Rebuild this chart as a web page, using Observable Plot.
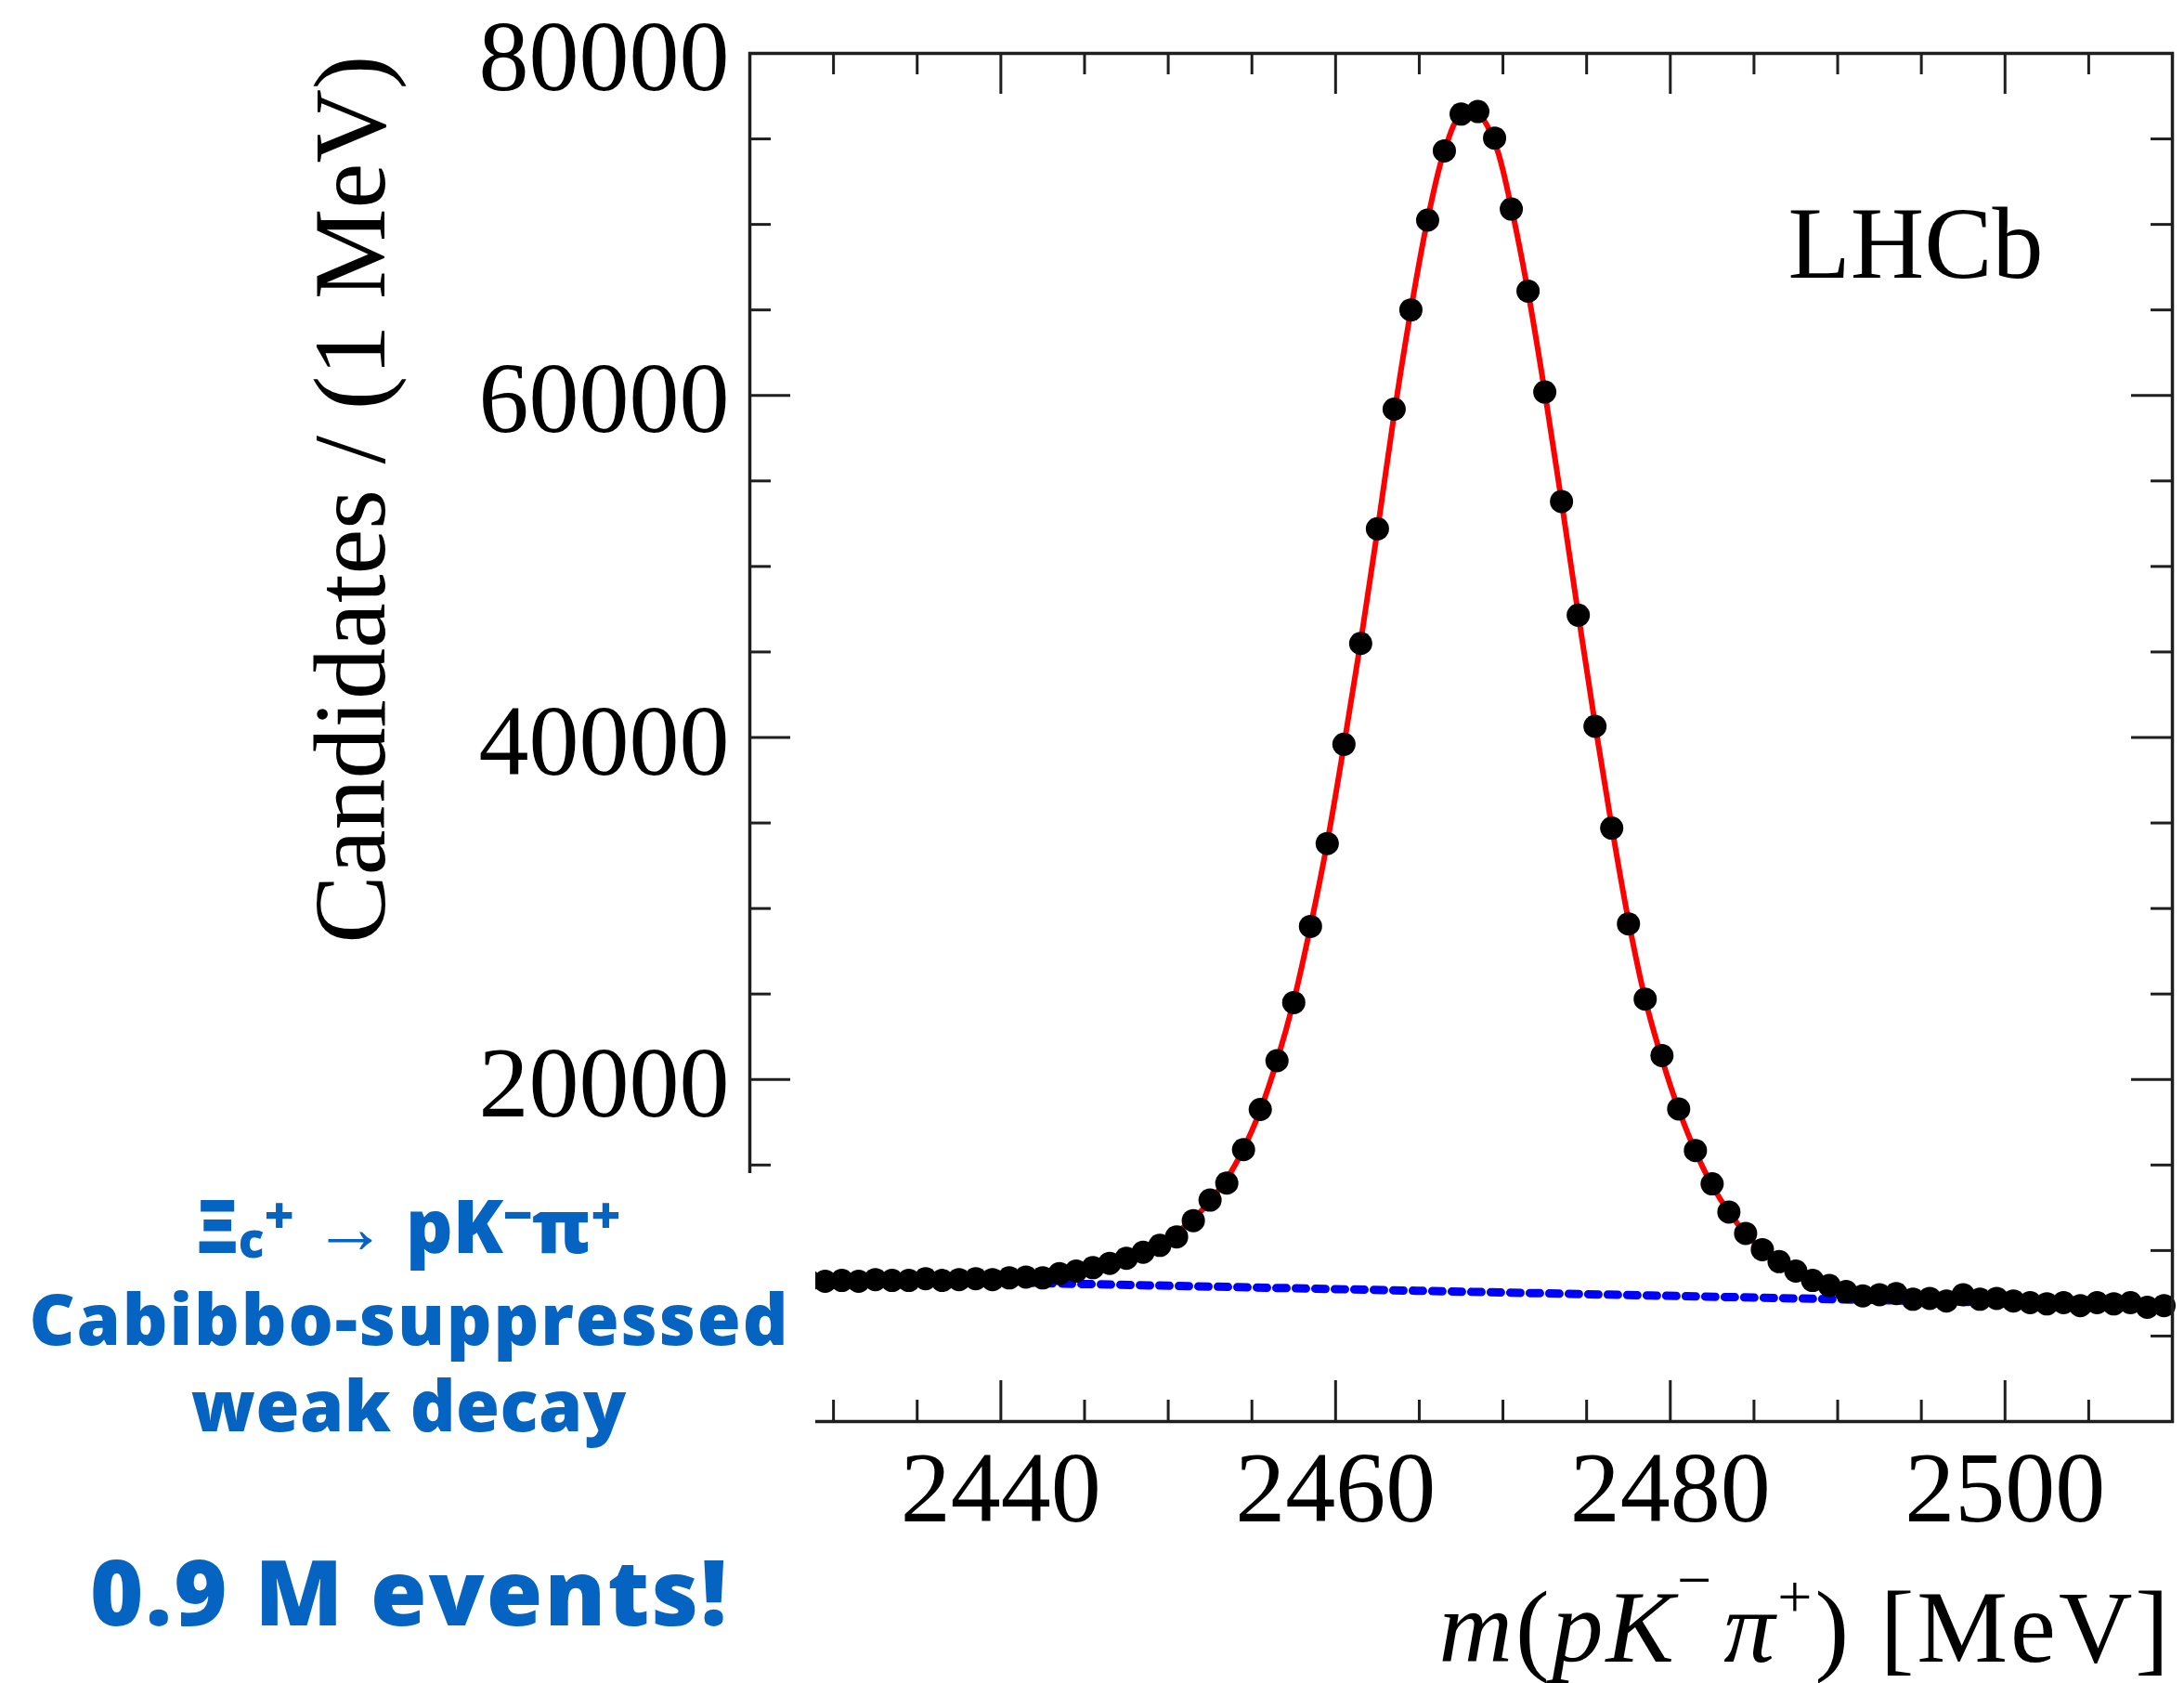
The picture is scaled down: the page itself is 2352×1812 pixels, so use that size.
<!DOCTYPE html>
<html><head><meta charset="utf-8">
<script src="https://cdn.jsdelivr.net/npm/d3@7"></script>
<script src="https://cdn.jsdelivr.net/npm/@observablehq/plot@0.6"></script>
<style>
html,body{margin:0;padding:0;background:#fff;}
#wrap{position:relative;width:2352px;height:1812px;overflow:hidden;background:#fff;}
#wrap svg{position:absolute;left:0;top:0;}
#mask{position:absolute;left:0;top:1263px;width:878px;height:549px;background:#fff;}
.bl{position:absolute;left:0;width:880px;text-align:center;color:#0563C1;font-family:"Open Sans",sans-serif;font-weight:800;white-space:nowrap;line-height:1;}
.bl .in{display:inline-block;line-height:1;}
.bl .sub{font-size:0.65em;display:inline-block;line-height:0.5;position:relative;top:0.1em;}
.bl .sup{font-size:0.7em;display:inline-block;line-height:0.5;position:relative;top:-0.38em;}
#xt{position:absolute;right:13px;top:1703px;font-family:"Liberation Serif",serif;font-size:110px;line-height:0.9;white-space:nowrap;color:#000;letter-spacing:3px;}
#xt .in{display:inline-block;line-height:0.9;}
#xt .s1{font-size:0.6em;display:inline-block;line-height:0.5;position:relative;top:-1.0em;margin-right:10px;}
#xt .s2{font-size:0.6em;display:inline-block;line-height:0.5;position:relative;top:-0.72em;}
</style></head><body><div id="wrap"></div>
<script>
// bin centres (MeV)
const mass = [
  2428.5, 2429.5, 2430.5, 2431.5, 2432.5, 2433.5, 2434.5, 2435.5, 2436.5, 2437.5,
  2438.5, 2439.5, 2440.5, 2441.5, 2442.5, 2443.5, 2444.5, 2445.5, 2446.5, 2447.5,
  2448.5, 2449.5, 2450.5, 2451.5, 2452.5, 2453.5, 2454.5, 2455.5, 2456.5, 2457.5,
  2458.5, 2459.5, 2460.5, 2461.5, 2462.5, 2463.5, 2464.5, 2465.5, 2466.5, 2467.5,
  2468.5, 2469.5, 2470.5, 2471.5, 2472.5, 2473.5, 2474.5, 2475.5, 2476.5, 2477.5,
  2478.5, 2479.5, 2480.5, 2481.5, 2482.5, 2483.5, 2484.5, 2485.5, 2486.5, 2487.5,
  2488.5, 2489.5, 2490.5, 2491.5, 2492.5, 2493.5, 2494.5, 2495.5, 2496.5, 2497.5,
  2498.5, 2499.5, 2500.5, 2501.5, 2502.5, 2503.5, 2504.5, 2505.5, 2506.5, 2507.5,
  2508.5, 2509.5
];
// data: candidates per 1 MeV
const counts = [
  8250, 8200, 8250, 8200, 8300, 8250, 8250, 8350, 8250, 8300,
  8350, 8300, 8400, 8450, 8400, 8650, 8800, 9000, 9250, 9550,
  9900, 10300, 10800, 11750, 12950, 13950, 15900, 18250, 21100, 24500,
  28950, 33800, 39600, 45500, 52200, 59200, 65000, 70250, 74300, 76450,
  76600, 75050, 70900, 66100, 60200, 53800, 47150, 40650, 34700, 29100,
  24700, 21400, 18280, 15850, 13900, 12250, 11000, 10050, 9350, 8800,
  8250, 7950, 7600, 7350, 7420, 7480, 7150, 7200, 7050, 7420,
  7150, 7200, 7050, 6950, 6880, 6950, 6780, 6950, 6880, 6950,
  6680, 6780
];
// total fit (red)
const fitCounts = [
  8270, 8270, 8270, 8270, 8275, 8280, 8285, 8290, 8300, 8310,
  8320, 8340, 8370, 8410, 8470, 8560, 8690, 8870, 9120, 9450,
  9870, 10400, 11050, 11850, 12900, 14200, 15950, 18200, 21100, 24600,
  28950, 33850, 39550, 45600, 52100, 58900, 65000, 70300, 74300, 76400,
  76450, 74800, 71000, 66050, 60200, 53800, 47200, 40800, 34800, 29300,
  24700, 21200, 18250, 15800, 13800, 12250, 11000, 10000, 9250, 8650,
  8200, 7880, 7640, 7470, 7350, 7270, 7210, 7160, 7120, 7090,
  7060, 7030, 7000, 6980, 6960, 6940, 6920, 6900, 6880, 6860,
  6840, 6820
];
// background component (blue dashed)
const bkgMass = [2428.5, 2443, 2490, 2509.5];
const bkgCounts = [8360, 8080, 7150, 6770];

const xLabelTicks = [2440, 2460, 2480, 2500];
const xMinorTicks = [2430, 2435, 2445, 2450, 2455, 2465, 2470, 2475, 2485, 2490, 2495, 2505];
const yLabelTicks = [20000, 40000, 60000, 80000];
const yMajorTicks = [20000, 40000, 60000];
const yMinorTicks = [5000, 10000, 15000, 25000, 30000, 35000, 45000, 50000, 55000, 65000, 70000, 75000];
const xDomain = [2425, 2510];
const yDomain = [0, 80000];
const yTitle = "Candidates / (1 MeV)";
const tag = "LHCb";

const points = mass.map((m, i) => ({m, n: counts[i]}));
const fit = mass.map((m, i) => ({m, n: fitCounts[i]}));
const bkg = bkgMass.map((m, i) => ({m, n: bkgCounts[i]}));

const W = 2352, H = 1812, mL = 807, mR = 13, mT = 57, mB = 282;
const pw = W - mL - mR, ph = H - mT - mB;
const ink = "#1e1e1e";
const majorLen = 44, minorLen = 23;

const chart = Plot.plot({
  width: W, height: H,
  marginLeft: mL, marginRight: mR, marginTop: mT, marginBottom: mB,
  x: {domain: xDomain},
  y: {domain: yDomain},
  style: {fontFamily: "'Liberation Serif', serif", background: "transparent", color: "#000"},
  marks: [
    Plot.line(bkg, {x: "m", y: "n", stroke: "#0000ff", strokeWidth: 9, strokeDasharray: "11,10"}),
    Plot.line(fit, {x: "m", y: "n", stroke: "#ff0000", strokeWidth: 6, curve: "catmull-rom"}),
    Plot.dot(points, {x: "m", y: "n", r: 12.5, fill: "#000", stroke: null}),
    // inward ticks: left / right
    Plot.tickY(yMinorTicks, {y: d => d, insetRight: pw - minorLen, stroke: ink, strokeWidth: 3}),
    Plot.tickY(yMajorTicks, {y: d => d, insetRight: pw - majorLen, stroke: ink, strokeWidth: 3}),
    Plot.tickY(yMinorTicks, {y: d => d, insetLeft: pw - minorLen, stroke: ink, strokeWidth: 3}),
    Plot.tickY(yMajorTicks, {y: d => d, insetLeft: pw - majorLen, stroke: ink, strokeWidth: 3}),
    // inward ticks: top / bottom
    Plot.tickX(xMinorTicks, {x: d => d, insetBottom: ph - minorLen, stroke: ink, strokeWidth: 3}),
    Plot.tickX(xLabelTicks, {x: d => d, insetBottom: ph - majorLen, stroke: ink, strokeWidth: 3}),
    Plot.tickX(xMinorTicks, {x: d => d, insetTop: ph - minorLen, stroke: ink, strokeWidth: 3}),
    Plot.tickX(xLabelTicks, {x: d => d, insetTop: ph - majorLen, stroke: ink, strokeWidth: 3}),
    Plot.frame({stroke: ink, strokeWidth: 3.5}),
    Plot.axisY({ticks: yLabelTicks, tickSize: 0, tickPadding: 22, fontSize: 108, tickFormat: "d", label: null, dy: 5}),
    Plot.axisX({ticks: xLabelTicks, tickSize: 0, tickPadding: 31, fontSize: 108, tickFormat: "d", label: null}),
    Plot.text([yTitle], {text: d => d, frameAnchor: "top-left", rotate: -90, textAnchor: "end", lineAnchor: "middle", dx: -429, dy: 2, fontSize: 110, fill: "#000"}),
    Plot.text([tag], {text: d => d, frameAnchor: "top-right", textAnchor: "end", lineAnchor: "top", dx: -139, dy: 163, fontSize: 110, fill: "#000"})
  ]
});

const wrap = document.getElementById("wrap");
wrap.appendChild(chart);

const mask = document.createElement("div");
mask.id = "mask";
wrap.appendChild(mask);

const lines = [
  {html: 'Ξ<span class="sub">c</span><span class="sup">+</span> → pK<span class="sup">−</span>π<span class="sup">+</span>', fs: 79, base: 1349, w: 479, fitW: false},
  {html: 'Cabibbo-suppressed', fs: 76, base: 1448, w: 819, fitW: true},
  {html: 'weak decay', fs: 76, base: 1541, w: 469, fitW: true},
  {html: '0.9 M events!', fs: 98, base: 1750, w: 688, fitW: true}
];
const blEls = lines.map(l => {
  const d = document.createElement("div");
  d.className = "bl";
  d.style.fontSize = l.fs + "px";
  d.style.top = (l.base - 0.888 * l.fs) + "px";
  d.innerHTML = '<span class="in">' + l.html + '</span>';
  wrap.appendChild(d);
  return {d, l};
});

const xt = document.createElement("div");
xt.id = "xt";
xt.innerHTML = '<span class="in"><i>m</i>(<i>pK</i><span class="s1">−</span><i>π</i><span class="s2">+</span>) [MeV]</span>';
wrap.appendChild(xt);

function fitLines() {
  blEls.forEach(({d, l}) => {
    if (!l.fitW) return;
    const span = d.firstElementChild;
    span.style.letterSpacing = "0px";
    span.style.paddingLeft = "0px";
    const w = span.getBoundingClientRect().width;
    const n = span.textContent.length;
    const ls = (l.w - w) / n;
    span.style.letterSpacing = ls + "px";
    span.style.paddingLeft = ls + "px";
  });
}
fitLines();
if (document.fonts && document.fonts.ready) document.fonts.ready.then(fitLines);
</script>
</body></html>
